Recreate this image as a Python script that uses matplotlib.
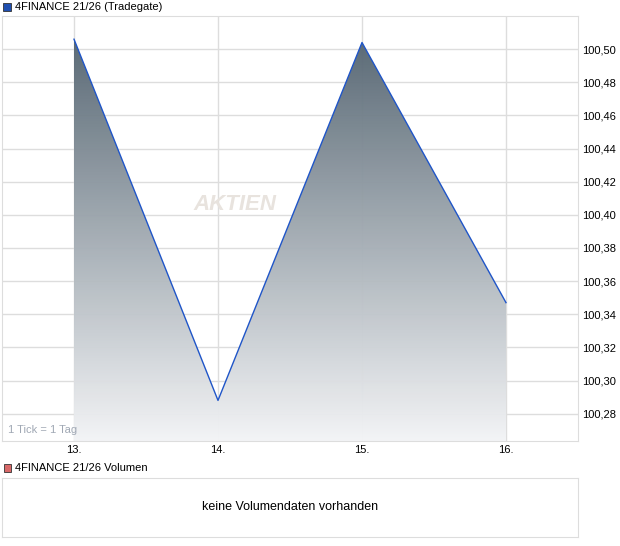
import numpy as np
import matplotlib.pyplot as plt
from matplotlib.colors import LinearSegmentedColormap

days = [13, 14, 15, 16]
day_labels = ['13.', '14.', '15.', '16.']
prices = [100.506, 100.288, 100.504, 100.347]
yticks = [100.28, 100.30, 100.32, 100.34, 100.36, 100.38, 100.40,
          100.42, 100.44, 100.46, 100.48, 100.50]

W, H = 620, 546
gridc = '#dddddd'


def main():
    fig = plt.figure(figsize=(W / 100, H / 100), dpi=100)
    plt.rcParams['font.family'] = ['Liberation Sans', 'DejaVu Sans']

    #----- price panel -----#
    ax = fig.add_axes([2 / W, 1 - 441 / H, 576 / W, 425 / H])
    ax.set_xlim(12.5, 16.5)
    ax.set_ylim(100.2635, 100.52)
    ymin, ymax = ax.get_ylim()

    ax.set_xticks(days)
    ax.set_xticklabels(day_labels)
    ax.set_yticks(yticks)
    ax.set_yticklabels([('%.2f' % v).replace('.', ',') for v in yticks])
    ax.yaxis.tick_right()
    ax.tick_params(axis='both', length=0, labelsize=8, colors='black')
    ax.tick_params(axis='x', pad=3)
    ax.tick_params(axis='y', pad=3)
    ax.grid(True, color=gridc, linewidth=1)
    ax.set_axisbelow(True)
    for s in ax.spines.values():
        s.set_color(gridc)

    # gradient fill under the line
    cmap = LinearSegmentedColormap.from_list('g', ['#f3f4f6', '#4d5e6b'])
    grad = np.linspace(0, 1, 256).reshape(-1, 1)
    poly = ax.fill_between(days, prices, ymin, color='none')
    im = ax.imshow(grad, cmap=cmap, aspect='auto', origin='lower',
                   extent=[12.5, 16.5, ymin, ymax], zorder=2, alpha=0.97)
    im.set_clip_path(poly.get_paths()[0], transform=ax.transData)
    ax.plot(days, prices, color='#1f55c8', linewidth=1, zorder=3)

    # watermark
    ax.text(14.12, 100.406, 'AKTIEN', fontsize=16, style='italic',
            fontweight='bold', color='#e8e3de', ha='center', va='center',
            zorder=1.5)
    ax.text(0.01, 0.015, '1 Tick = 1 Tag', transform=ax.transAxes,
            fontsize=8, color='#a0a8b4', ha='left', va='bottom', zorder=4)

    fig.patches.append(plt.Rectangle((3 / W, 1 - 11 / H), 8 / W, 8 / H,
                                     transform=fig.transFigure,
                                     facecolor='#1f4fb0', edgecolor='#333333',
                                     linewidth=0.6))
    fig.text(15 / W, 1 - 6.5 / H, '4FINANCE 21/26 (Tradegate)', fontsize=8,
             va='center', ha='left')

    #----- volume panel -----#
    ax2 = fig.add_axes([2 / W, 1 - 537 / H, 576 / W, 59 / H])
    ax2.set_xticks([])
    ax2.set_yticks([])
    for s in ax2.spines.values():
        s.set_color(gridc)
    ax2.text(0.5, 0.5, 'keine Volumendaten vorhanden', transform=ax2.transAxes,
             fontsize=9, ha='center', va='center')

    fig.patches.append(plt.Rectangle((4 / W, 1 - 472 / H), 7 / W, 8 / H,
                                     transform=fig.transFigure,
                                     facecolor='#d86868', edgecolor='#333333',
                                     linewidth=0.6))
    fig.text(15 / W, 1 - 468 / H, '4FINANCE 21/26 Volumen', fontsize=8,
             va='center', ha='left')

    fig.savefig('out.png', dpi=100)


if __name__ == '__main__':
    main()
